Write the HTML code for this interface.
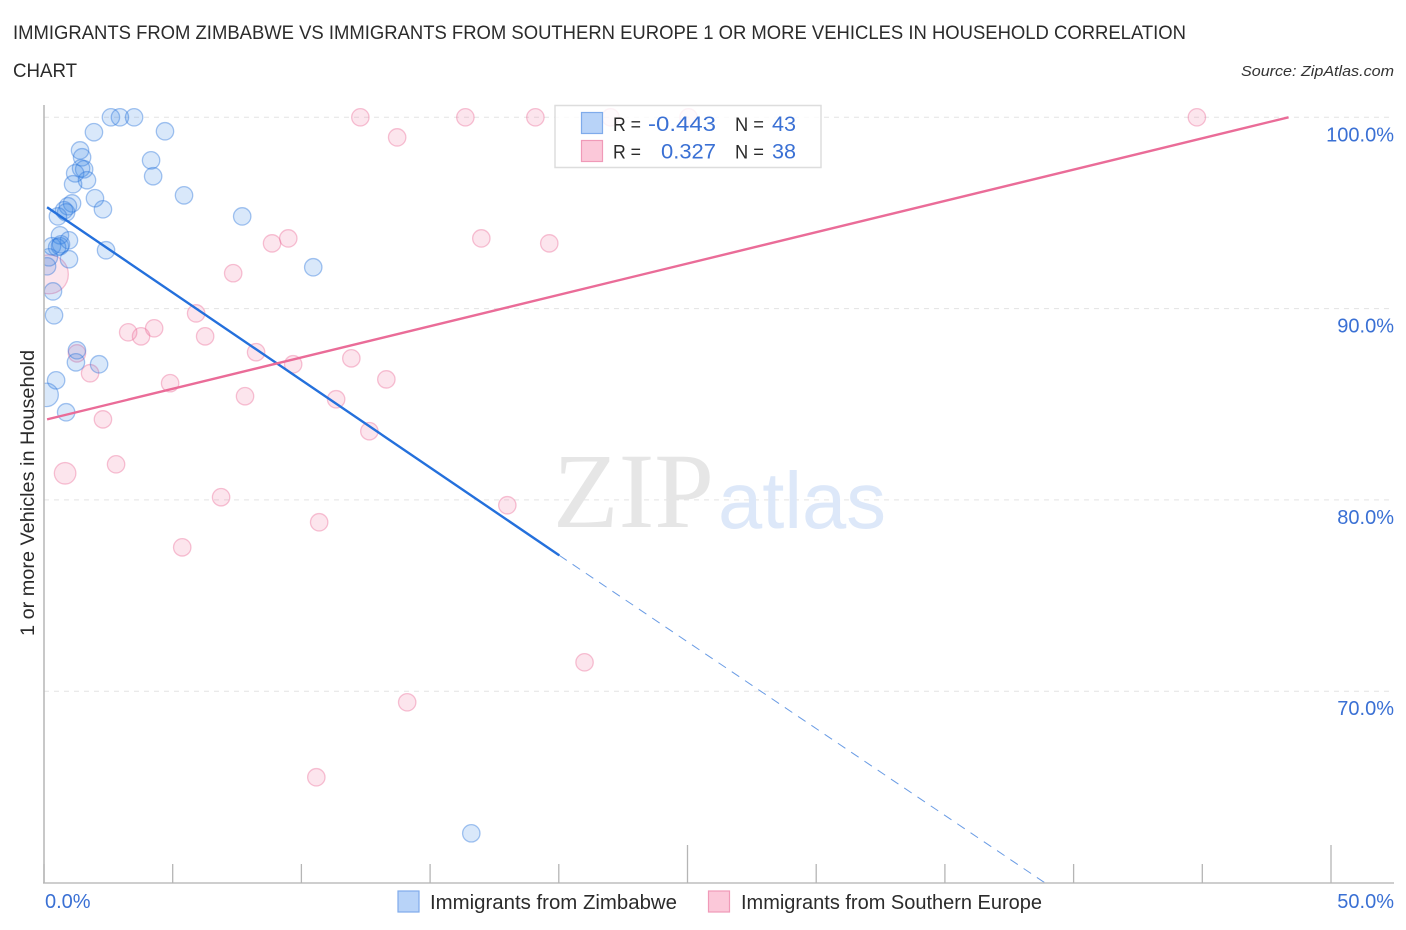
<!DOCTYPE html>
<html lang="en">
<head>
<meta charset="utf-8">
<title>Immigrants from Zimbabwe vs Immigrants from Southern Europe chart</title>
<style>
html,body{margin:0;padding:0;background:#fff;width:1406px;height:930px;overflow:hidden}
svg{display:block}
text{font-family:"Liberation Sans",sans-serif}
</style>
</head>
<body>
<svg id="chart" xmlns="http://www.w3.org/2000/svg" width="1406" height="930" viewBox="0 0 1406 930">
  <defs>
    <clipPath id="plot-clip"><rect x="44" y="90" width="1350" height="793"/></clipPath>
  </defs>
  <rect x="0" y="0" width="1406" height="930" fill="#ffffff"/>
  <text x="13" y="39" font-size="19.5" fill="#2b2b2b" textLength="1173" lengthAdjust="spacingAndGlyphs">IMMIGRANTS FROM ZIMBABWE VS IMMIGRANTS FROM SOUTHERN EUROPE 1 OR MORE VEHICLES IN HOUSEHOLD CORRELATION</text>
  <text x="13" y="77" font-size="19.5" fill="#2b2b2b" textLength="64" lengthAdjust="spacingAndGlyphs">CHART</text>
  <text x="1241" y="76" font-size="15" font-style="italic" fill="#333333" textLength="153" lengthAdjust="spacingAndGlyphs">Source: ZipAtlas.com</text>
  <g id="grid"></g>
  <g>
    <text x="553" y="527" font-size="107" fill="#e6e6e6" textLength="161" lengthAdjust="spacingAndGlyphs" style="font-family:'Liberation Serif',serif">ZIP</text>
    <text x="718" y="528" font-size="80" fill="#dde8f9" textLength="168" lengthAdjust="spacingAndGlyphs">atlas</text>
  </g>
  <g id="points" clip-path="url(#plot-clip)"></g>
  <g id="trends"></g>
  <g id="axes"></g>
  <text transform="translate(34,636) rotate(-90)" font-size="19" fill="#2b2b2b" textLength="286" lengthAdjust="spacingAndGlyphs">1 or more Vehicles in Household</text>

  <g>
    <rect x="555" y="105.500" width="266" height="62" fill="#ffffff" fill-opacity="0.8" stroke="#dddddd" stroke-width="1.500"/>
    <rect x="581.500" y="112.500" width="21" height="21" fill="#b8d3f8" stroke="#7fabeb" stroke-width="1.200"/>
    <rect x="581.500" y="140.500" width="21" height="21" fill="#fbc8d9" stroke="#f09ab8" stroke-width="1.200"/>
    <text x="613" y="131" font-size="19.500" fill="#2b2b2b" textLength="28" lengthAdjust="spacingAndGlyphs">R =</text>
    <text x="648" y="131" font-size="21" fill="#3a70d4" textLength="68" lengthAdjust="spacingAndGlyphs">-0.443</text>
    <text x="735" y="131" font-size="19.500" fill="#2b2b2b" textLength="29" lengthAdjust="spacingAndGlyphs">N =</text>
    <text x="772" y="131" font-size="21" fill="#3a70d4" textLength="24" lengthAdjust="spacingAndGlyphs">43</text>
    <text x="613" y="158.500" font-size="19.500" fill="#2b2b2b" textLength="28" lengthAdjust="spacingAndGlyphs">R =</text>
    <text x="661" y="158.500" font-size="21" fill="#3a70d4" textLength="55" lengthAdjust="spacingAndGlyphs">0.327</text>
    <text x="735" y="158.500" font-size="19.500" fill="#2b2b2b" textLength="29" lengthAdjust="spacingAndGlyphs">N =</text>
    <text x="772" y="158.500" font-size="21" fill="#3a70d4" textLength="24" lengthAdjust="spacingAndGlyphs">38</text>
  </g>

  <g>
    <rect x="398" y="891" width="21" height="21" fill="#b8d3f8" stroke="#7fabeb" stroke-width="1.200"/>
    <text x="430" y="909" font-size="20" fill="#2b2b2b" textLength="247" lengthAdjust="spacingAndGlyphs">Immigrants from Zimbabwe</text>
    <rect x="708.500" y="891" width="21" height="21" fill="#fbc8d9" stroke="#f09ab8" stroke-width="1.200"/>
    <text x="741" y="909" font-size="20" fill="#2b2b2b" textLength="301" lengthAdjust="spacingAndGlyphs">Immigrants from Southern Europe</text>
  </g>
</svg>
<script>
const xTickValues = [0, 5, 10, 15, 20, 25, 30, 35, 40, 45, 50];
const majorXTicks = [25, 50];
const xEdgeLabels = ["0.0%", "50.0%"];
const yTickValues = [100, 90, 80, 70];
const yTickLabels = ["100.0%", "90.0%", "80.0%", "70.0%"];

const zimbabweX = [2.60,2.95,3.50,1.94,4.70,1.40,1.48,4.16,1.44,1.56,4.24,1.21,1.67,1.13,5.44,1.98,1.09,0.93,0.78,2.29,0.86,0.54,7.70,0.62,0.97,0.31,0.62,0.51,2.41,0.19,0.97,0.12,10.46,0.35,0.39,1.28,1.24,2.14,0.47,0.10,0.86,16.60,0.66];
const zimbabweY = [100,100,100,99.22,99.27,98.27,97.91,97.75,97.33,97.28,96.92,97.07,96.71,96.50,95.92,95.77,95.50,95.35,95.14,95.19,95.03,94.82,94.82,93.83,93.57,93.26,93.26,93.20,93.05,92.68,92.58,92.21,92.16,90.90,89.65,87.82,87.19,87.09,86.25,85.49,84.58,62.57,93.36];
const zimbabweWeight = [1,1,1,1,1,1,1,1,1,1,1,1,1,1,1,1,1,1,1,1,1,1,1,1,1,1,1,1,1,1,1,1,1,1,1,1,1,1,1,1.83,1,1,1];

const europeX = [12.29,16.37,19.09,22.01,25.04,44.79,13.72,8.86,9.49,16.99,19.63,7.35,0.19,5.91,3.27,3.77,4.28,6.26,8.24,1.28,9.68,1.79,11.94,13.30,4.90,7.81,11.35,2.29,12.64,2.80,0.82,6.88,18.00,10.69,5.37,21.00,14.11,10.58];
const europeY = [100,100,100,100,100,100,98.95,93.41,93.67,93.67,93.41,91.85,91.79,89.75,88.76,88.55,88.97,88.55,87.72,87.66,87.09,86.62,87.40,86.30,86.10,85.42,85.26,84.21,83.59,81.86,81.39,80.14,79.72,78.83,77.52,71.51,69.42,65.50];
const europeWeight = [1,1,1,1,1,1,1,1,1,1,1,1,5,1,1,1,1,1,1,1,1,1,1,1,1,1,1,1,1,1,1.53,1,1,1,1,1,1,1];

const zimbabweTrendX = [0.12, 20.02, 38.92];
const zimbabweTrendY = [95.30, 77.10, 59.95];
const europeTrendX = [0.12, 48.35];
const europeTrendY = [84.21, 100];

const svg = document.getElementById('chart');
const NS = 'http://www.w3.org/2000/svg';
function xScale(v){ return 44 + v * 25.74; }
function yScale(v){ return 117.3 + (100 - v) * 19.13; }
function rScale(w){ return 8.7 * Math.sqrt(w); }
function make(tag, attrs, parent){
  const el = document.createElementNS(NS, tag);
  for (const k in attrs) el.setAttribute(k, attrs[k]);
  parent.appendChild(el);
  return el;
}

const grid = document.getElementById('grid');
yTickValues.forEach(function(v){
  const line = make('line', {x1:44, x2:1394, y1:yScale(v), y2:yScale(v), stroke:'#e3e3e3', 'stroke-width':1, 'stroke-dasharray':'5 5'}, grid);
  
  
});

const pointsLayer = document.getElementById('points');
function drawPoints(xs, ys, ws, fill, stroke, label){
  xs.forEach(function(x, i){
    const c = make('circle', {cx:xScale(x), cy:yScale(ys[i]), r:rScale(ws[i]), fill:fill, 'fill-opacity':0.18, stroke:stroke, 'stroke-opacity':0.42, 'stroke-width':1.3}, pointsLayer);
    
    
  });
}
drawPoints(europeX, europeY, europeWeight, '#f0709c', '#ec6f9b', 'point-southern-europe');
drawPoints(zimbabweX, zimbabweY, zimbabweWeight, '#2f7fe6', '#2a74dc', 'point-zimbabwe');

const trends = document.getElementById('trends');
const blueDash = make('line', {x1:xScale(zimbabweTrendX[1]), y1:yScale(zimbabweTrendY[1]), x2:xScale(zimbabweTrendX[2]), y2:yScale(zimbabweTrendY[2]), stroke:'#2a70d8', 'stroke-width':1, 'stroke-opacity':0.7, 'stroke-dasharray':'9 7'}, trends);


const blueSolid = make('line', {x1:xScale(zimbabweTrendX[0]), y1:yScale(zimbabweTrendY[0]), x2:xScale(zimbabweTrendX[1]), y2:yScale(zimbabweTrendY[1]), stroke:'#2470dc', 'stroke-width':2.4}, trends);


const pinkSolid = make('line', {x1:xScale(europeTrendX[0]), y1:yScale(europeTrendY[0]), x2:xScale(europeTrendX[1]), y2:yScale(europeTrendY[1]), stroke:'#ea6c98', 'stroke-width':2.4}, trends);



const axes = document.getElementById('axes');
const yAxis = make('line', {x1:44, x2:44, y1:105, y2:883.5, stroke:'#b5b5b5', 'stroke-width':1.5}, axes);


const xAxis = make('line', {x1:43, x2:1394, y1:883, y2:883, stroke:'#bdbdbd', 'stroke-width':1.6}, axes);


xTickValues.forEach(function(v){
  const major = majorXTicks.indexOf(v) >= 0;
  const t = make('line', {x1:xScale(v), x2:xScale(v), y1: major ? 845 : 864, y2:883, stroke:'#b5b5b5', 'stroke-width':1.3}, axes);
  
  
});
yTickValues.forEach(function(v, i){
  const t = make('text', {x:1394, y:yScale(v) + 24, 'text-anchor':'end', 'font-size':20, fill:'#3a70d4'}, axes);
  t.textContent = yTickLabels[i];
  
  
});
const xLabelLeft = make('text', {x:45, y:908, 'font-size':20, fill:'#3a70d4'}, axes);
xLabelLeft.textContent = xEdgeLabels[0];


const xLabelRight = make('text', {x:1394, y:908, 'text-anchor':'end', 'font-size':20, fill:'#3a70d4'}, axes);
xLabelRight.textContent = xEdgeLabels[1];


</script>
</body>
</html>
